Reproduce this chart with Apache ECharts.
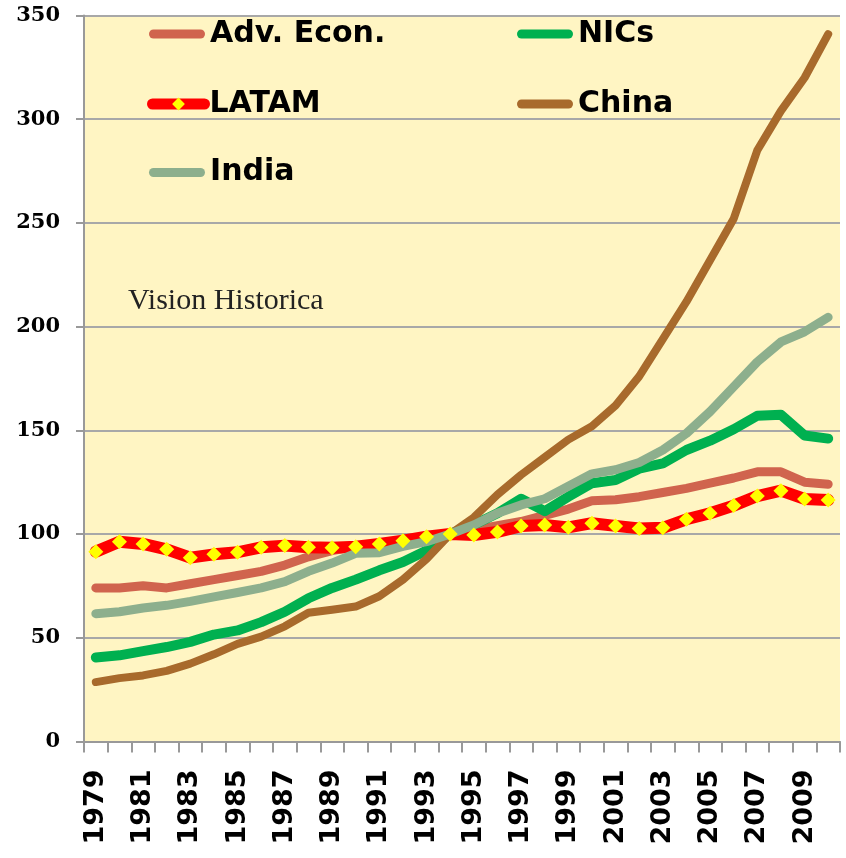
<!DOCTYPE html>
<html>
<head>
<meta charset="utf-8">
<script src="https://cdn.jsdelivr.net/npm/echarts@6/dist/echarts.min.js"></script>
<style>
  html, body { margin: 0; padding: 0; background: #fff; }
  #chart { width: 846px; height: 858px; }
</style>
</head>
<body>
<div id="chart"></div>
<script>
var years = ['1979', '1980', '1981', '1982', '1983', '1984', '1985', '1986', '1987', '1988',
  '1989', '1990', '1991', '1992', '1993', '1994', '1995', '1996', '1997', '1998',
  '1999', '2000', '2001', '2002', '2003', '2004', '2005', '2006', '2007', '2008',
  '2009', '2010']

var advEcon = [74, 74, 75, 74, 76, 78, 80, 82, 85, 89, 92, 94, 95, 96, 98, 100,
  102, 104, 106, 109, 112, 116, 116.5, 118, 120, 122, 124.5, 127, 130, 130, 125, 124]
var nics = [40.5, 41.5, 43.5, 45.5, 48, 51.5, 53.5, 57.5, 62.5, 69, 74, 78, 82.5, 86.5, 92, 100,
  104.5, 110, 117, 111, 118, 124.5, 126, 131.5, 134, 140.5, 145, 150.5, 157, 157.5, 147.5, 146]
var latam = [91.5, 96.3, 95.2, 92.6, 88.6, 90.2, 91.2, 93.6, 94.4, 93.6, 93.4, 93.9, 95.2, 96.8, 98.7, 100,
  99.5, 101, 103.8, 104.3, 103.2, 105.2, 103.9, 102.7, 103, 107.1, 110, 113.7, 118.3, 120.9, 116.9, 116.4]
var china = [28.6, 30.5, 31.8, 34, 37.5, 42, 47, 50.5, 55.5, 62, 63.5, 65, 70, 78, 88, 100,
  108, 119, 128.5, 137, 145.5, 152, 162, 176, 194, 212, 232, 252, 285, 304, 320, 341]
var india = [61.6, 62.5, 64.3, 65.6, 67.5, 69.7, 71.8, 74, 77, 82, 86, 90.7, 91, 94, 96.3, 100,
  104.3, 110, 114, 117, 123, 129, 131, 134.5, 140.5, 148.5, 159, 171, 183, 192.6, 197.5, 204.5]

var yTicks = [0, 50, 100, 150, 200, 250, 300, 350]

var chart = echarts.init(document.getElementById('chart'))

// round-ended bar used as legend key for the plain lines (56 x 9)
var barIcon = 'path://M4.5,0 L51.5,0 A4.5,4.5 0 0 1 51.5,9 L4.5,9 A4.5,4.5 0 0 1 4.5,0 Z'

function lineSeries(name, data, color, width) {
  return {
    name: name,
    type: 'line',
    data: data,
    symbol: 'none',
    lineStyle: { color: color, width: width, cap: 'round', join: 'round' },
    itemStyle: { color: color }
  }
}

function legendAt(name, left, top, color, icon) {
  var lg = {
    data: [name],
    left: left,
    top: top,
    padding: 0,
    itemWidth: icon ? 56 : 52,
    itemHeight: icon ? 9 : 16,
    selectedMode: false,
    lineStyle: { color: color, width: 11, cap: 'round' },
    textStyle: { fontFamily: 'DejaVu Sans', fontWeight: 'bold', fontSize: 30, color: '#000' }
  }
  if (icon) {
    lg.icon = icon
    lg.itemStyle = { color: color }
  }
  return lg
}

var option = {
  animation: false,
  backgroundColor: '#fff',
  grid: {
    left: 84,
    right: 6,
    top: 15.5,
    bottom: 116.6,
    show: true,
    backgroundColor: '#FFF5C3',
    borderWidth: 0
  },
  legend: [
    legendAt('Adv. Econ.', 149, 19, '#D0644E', barIcon),
    legendAt('NICs', 517, 19, '#00B050', barIcon),
    legendAt('LATAM', 147, 89, '#FF0000', null),
    legendAt('China', 517, 89, '#A86A2C', barIcon),
    legendAt('India', 149, 157.5, '#8DAF8D', barIcon)
  ],
  xAxis: {
    type: 'category',
    data: years,
    boundaryGap: true,
    axisLine: { lineStyle: { color: '#999', width: 2 } },
    axisTick: { show: true, interval: 0, length: 11, lineStyle: { color: '#999', width: 2 } },
    axisLabel: {
      interval: 1,
      rotate: 90,
      margin: 28,
      fontFamily: 'DejaVu Sans',
      fontWeight: 'bold',
      fontSize: 27,
      color: '#000'
    },
    splitLine: { show: false }
  },
  yAxis: {
    type: 'value',
    min: yTicks[0],
    max: yTicks[yTicks.length - 1],
    interval: 50,
    axisLine: { show: true, lineStyle: { color: '#999', width: 2 } },
    axisTick: { show: true, length: 8, lineStyle: { color: '#999', width: 2 } },
    axisLabel: {
      margin: 24,
      fontFamily: 'DejaVu Serif',
      fontWeight: 'bold',
      fontSize: 21,
      color: '#000'
    },
    splitLine: { lineStyle: { color: '#A8A8A8', width: 2 } }
  },
  graphic: [{
    type: 'text',
    left: 128,
    top: 286,
    style: {
      text: 'Vision Historica',
      fontFamily: 'Liberation Serif',
      fontSize: 30,
      fill: '#222'
    }
  }],
  series: [
    lineSeries('Adv. Econ.', advEcon, '#D0644E', 9),
    lineSeries('NICs', nics, '#00B050', 10),
    {
      name: 'LATAM',
      type: 'line',
      data: latam,
      symbol: 'diamond',
      symbolSize: 15,
      showSymbol: true,
      lineStyle: { color: '#FF0000', width: 12, cap: 'round', join: 'round' },
      itemStyle: { color: '#FFFF00', borderWidth: 0 }
    },
    lineSeries('China', china, '#A86A2C', 8),
    lineSeries('India', india, '#8DAF8D', 9)
  ]
}

chart.setOption(option)
</script>
</body>
</html>
